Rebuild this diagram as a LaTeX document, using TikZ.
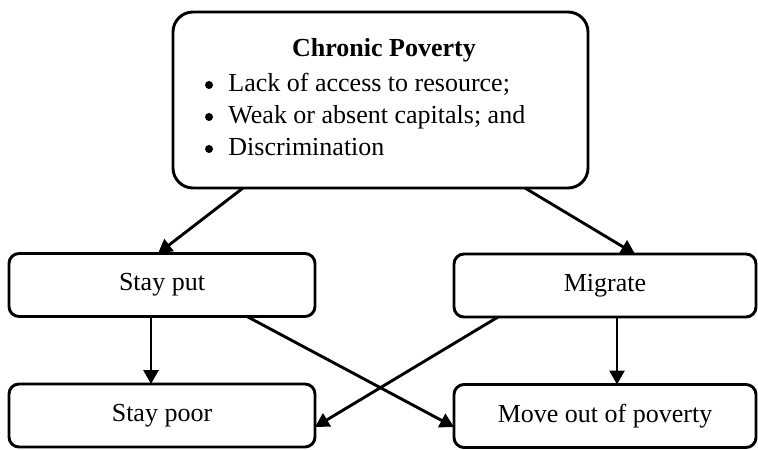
\documentclass[tikz,border=0pt]{standalone}
\usepackage{fontspec}
\setmainfont{Liberation Serif}
\usetikzlibrary{arrows.meta,calc}
\begin{document}
\begin{tikzpicture}[x=0.5pt,y=-0.5pt,
  line width=1.45pt,
  box/.style={draw,rounded corners=5pt,outer sep=0pt,inner sep=0pt,
    minimum width=#1*0.5pt,minimum height=31.5pt,font=\fontsize{13}{15}\selectfont},
  bigbox/.style={draw,rounded corners=10pt,outer sep=0pt,inner sep=0pt,
    minimum width=207.5pt,minimum height=88pt},
  flow/.style={-{Triangle[length=7pt,width=7.5pt]}},
  listdot/.style={fill,draw=none},
  listtext/.style={font=\fontsize{13}{16}\selectfont,align=left,inner sep=0pt}]
\useasboundingbox (0,0) rectangle (758,449);

% main box with the causes of chronic poverty
\node[bigbox] (cp) at (380.5,100) {};
\node[inner sep=0pt,anchor=base,font=\fontsize{13}{15}\selectfont\bfseries] (title) at (384,57) {Chronic Poverty};
% base anchor of a multi-line node sits on its last line
\node[listtext,anchor=base west] (causes) at (227,155)
  {Lack of access to resource;\\
   Weak or absent capitals; and\\
   Discrimination};
\foreach \y in {85,117,149} \fill[listdot] (209,\y) circle[radius=2pt];

% choices
\node[box=306] (sp) at (162,285) {Stay put};
\node[box=302] (mg) at (605,285.5) {Migrate};

% outcomes
\node[box=306] (pr) at (162,415.5) {Stay poor};
\node[box=302] (mo) at (605,416) {Move out of poverty};

% connectors
\draw[flow] ($(cp.south)+(-137.5,0)$) -- ($(sp.north)+(-4,0)$);
\draw[flow] ($(cp.south)+(144.5,0)$) -- ($(mg.north)+(30,0)$);
\draw[flow] ($(sp.south)+(-11,0)$) -- ($(pr.north)+(-11,0)$);
\draw[flow] ($(mg.south)+(12,0)$) -- ($(mo.north)+(12,0)$);
\draw[flow] ($(sp.south)+(85,0)$) -- ($(mo.west)+(0,11)$);
\draw[flow] ($(mg.south)+(-107,0)$) -- ($(pr.east)+(0,11.5)$);
\end{tikzpicture}
\end{document}
